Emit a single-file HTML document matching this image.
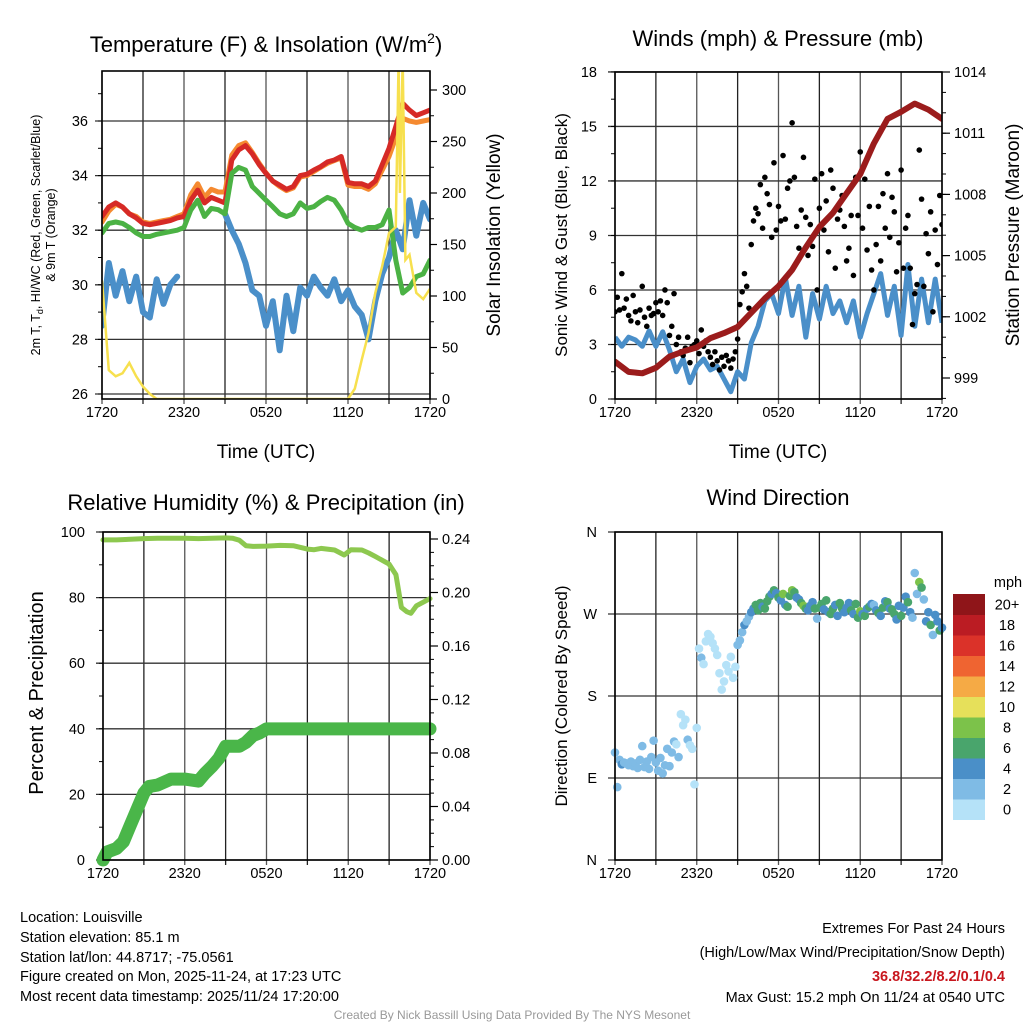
<!DOCTYPE html>
<html><head><meta charset="utf-8">
<style>
html,body{margin:0;padding:0;background:#fff;}
svg{display:block;font-family:"Liberation Sans",Arial,sans-serif;}
</style></head>
<body>
<svg id="s" width="1024" height="1024" viewBox="0 0 1024 1024" xmlns="http://www.w3.org/2000/svg">
<defs>
<clipPath id="c1"><rect x="102" y="71" width="328" height="328"/></clipPath>
<clipPath id="c2"><rect x="615" y="72" width="327" height="327"/></clipPath>
<clipPath id="c3"><rect x="95" y="526" width="342" height="342"/></clipPath>
<clipPath id="c4"><rect x="610" y="527" width="337" height="338"/></clipPath>
</defs>
<text x="266" y="52" font-size="22" text-anchor="middle">Temperature (F) &amp; Insolation (W/m<tspan dy="-9" font-size="14">2</tspan><tspan dy="9">)</tspan></text>
<text x="778" y="46" font-size="22" text-anchor="middle">Winds (mph) &amp; Pressure (mb)</text>
<text x="266" y="510" font-size="22" text-anchor="middle">Relative Humidity (%) &amp; Precipitation (in)</text>
<text x="778" y="505" font-size="22" text-anchor="middle">Wind Direction</text>

<text transform="translate(40,235) rotate(-90)" font-size="12.5" text-anchor="middle">2m T, T<tspan dy="3" font-size="9">d</tspan><tspan dy="-3">, HI/WC (Red, Green, Scarlet/Blue)</tspan></text>
<text transform="translate(55,235) rotate(-90)" font-size="12.5" text-anchor="middle">&amp; 9m T (Orange)</text>
<text transform="translate(500,235) rotate(-90)" font-size="19" text-anchor="middle">Solar Insolation (Yellow)</text>
<text x="266" y="458" font-size="19" text-anchor="middle">Time (UTC)</text>
<text transform="translate(567,235) rotate(-90)" font-size="17" text-anchor="middle">Sonic Wind &amp; Gust (Blue, Black)</text>
<text transform="translate(1019,235) rotate(-90)" font-size="19" text-anchor="middle">Station Pressure (Maroon)</text>
<text x="778" y="458" font-size="19" text-anchor="middle">Time (UTC)</text>
<text transform="translate(43,693) rotate(-90)" font-size="20" text-anchor="middle">Percent &amp; Precipitation</text>
<text transform="translate(567,696) rotate(-90)" font-size="17" text-anchor="middle">Direction (Colored By Speed)</text>

<g font-size="14.5">
<text x="20" y="922">Location: Louisville</text>
<text x="20" y="942">Station elevation: 85.1 m</text>
<text x="20" y="962">Station lat/lon: 44.8717; -75.0561</text>
<text x="20" y="981">Figure created on Mon, 2025-11-24, at 17:23 UTC</text>
<text x="20" y="1001">Most recent data timestamp: 2025/11/24 17:20:00</text>
</g>
<g font-size="14.5" text-anchor="end">
<text x="1005" y="933">Extremes For Past 24 Hours</text>
<text x="1005" y="957">(High/Low/Max Wind/Precipitation/Snow Depth)</text>
<text x="1005" y="981" fill="#c8171e" font-weight="bold">36.8/32.2/8.2/0.1/0.4</text>
<text x="1005" y="1002">Max Gust: 15.2 mph On 11/24 at 0540 UTC</text>
</g>
<text x="512" y="1019" font-size="12" fill="#999" text-anchor="middle">Created By Nick Bassill Using Data Provided By The NYS Mesonet</text>
</svg>
<script>
// ---- Temperature panel data (hours since 1720 UTC, every 0.5 h) ----
const tempHours=[0,0.5,1,1.5,2,2.5,3,3.5,4,4.5,5,5.5,6,6.5,7,7.5,8,8.5,9,9.5,10,10.5,11,11.5,12,12.5,13,13.5,14,14.5,15,15.5,16,16.5,17,17.5,18,18.5,19,19.5,20,20.5,21,21.5,22,22.5,23,23.5,24];
const tempRed=[32.5,32.85,33.0,32.85,32.6,32.45,32.25,32.2,32.25,32.3,32.35,32.45,32.5,33.1,33.47,33.0,33.2,33.1,33.0,34.57,34.94,35.1,34.8,34.4,34.08,33.8,33.65,33.5,33.6,34.0,34.05,34.2,34.33,34.5,34.57,34.7,33.75,33.7,33.7,33.6,33.8,34.4,35.0,35.8,36.65,36.4,36.2,36.3,36.4];
const tempOrange=[32.3,32.7,32.95,32.85,32.6,32.5,32.3,32.25,32.3,32.35,32.4,32.5,32.6,33.3,33.7,33.2,33.5,33.4,33.4,34.75,35.1,35.2,34.85,34.45,34.1,33.8,33.6,33.45,33.55,33.95,34.0,34.15,34.3,34.45,34.55,34.65,33.65,33.6,33.6,33.5,33.7,34.2,34.7,35.4,36.1,36.0,35.95,36.0,36.05];
const tempGreen=[31.9,32.25,32.3,32.25,32.1,31.9,31.77,31.77,31.85,31.9,31.95,32.0,32.1,32.74,33.1,32.5,32.8,32.75,32.6,34.08,34.3,34.2,33.6,33.35,33.1,32.86,32.6,32.5,32.6,33.0,32.8,32.86,33.05,33.2,33.1,32.74,32.25,32.1,32.0,32.1,32.1,32.2,32.74,30.9,29.7,29.9,30.3,30.4,30.9];
const tempBlue=[28.5,30.8,29.6,30.5,29.4,30.3,29.0,28.8,30.2,29.3,30.0,30.3,null,31.9,null,null,null,null,32.6,32.0,31.5,30.8,29.8,29.6,28.5,29.4,27.6,29.6,28.3,29.9,29.6,30.3,29.9,29.6,30.2,29.4,29.8,29.2,28.9,28.0,29.4,30.4,31.0,32.0,31.3,33.1,31.8,33.0,32.4];
const solarHours=[0,0.5,1,1.5,2,2.5,3,3.5,4,18,18.5,19,19.5,20,20.5,21,21.5,21.7,21.8,22,22.2,22.5,23,23.5,24];
const solarValues=[115,28,22,25,35,22,12,5,0,0,10,38,64,103,129,161,167,330,200,330,135,140,103,97,107];
const tempTicks=[26,28,30,32,34,36];
const solarTicks=[0,50,100,150,200,250,300];
const timeTickLabels=["1720","2320","0520","1120","1720"];
// ---- Wind panel data ----
const windHours=tempHours;
const windSonic=[3.4,2.9,3.4,3.25,2.9,3.75,2.9,3.7,2.7,1.5,2.2,0.9,1.8,2.2,1.6,1.8,1.1,0.4,1.5,1.1,3.1,4.0,5.4,5.8,4.7,6.7,4.6,6.2,3.4,5.8,4.4,6.2,4.7,5.4,4.2,5.4,3.4,4.7,5.8,6.9,4.6,6.2,3.5,7.4,4.0,6.6,4.2,6.6,4.2];
const gustValues=[4.8,5.6,4.9,6.9,5.0,5.5, 4.6,4.3,5.7,4.8,4.2,4.9, 6.2,4.5,4.0,5.0,4.6,4.7, 5.3,4.8,5.4,4.6,6.0,5.3, 3.5,4.0,5.8,3.0,3.4,2.6, 2.4,2.8,3.4,2.0,2.9,3.0, 3.2,2.5,3.8,2.9,3.2,2.6, 2.3,1.9,2.6,2.1,1.6,2.3, 1.8,2.4,2.1,1.7,2.2,2.6, 3.3,5.2,5.9,6.9,6.2,5.0, 8.5,9.8,10.5,10.2,11.8,9.4, 12.2,11.3,10.7,8.9,13.0,9.3, 10.6,9.8,13.4,9.9,11.6,12.0, 15.2,12.2,9.5,8.3,10.4,13.3, 10.0,7.9,9.6,8.4,12.1,6.0, 10.5,12.4,9.3,10.9,8.1,12.6, 11.6,7.2,9.9,10.4,11.2,9.5, 7.6,8.3,10.1,6.8,12.2,10.1, 13.6,9.4,12.1,8.2,10.6,7.1, 6.0,8.5,10.6,7.6,11.3,9.4, 12.4,8.9,11.1,10.3,7.0,8.6, 12.6,7.2,9.4,10.1,7.2,4.1, 5.8,6.3,13.7,11.0,6.2,9.1, 8.0,10.3,4.8,9.3,7.4,11.2, 9.6];
const pressHours=[0,1,2,3,4,5,6,7,8,9,10,11,12,13,14,15,16,17,18,19,20,21,22,23,24];
const pressValues=[999.8,999.3,999.23,999.5,1000.05,1000.3,1000.5,1000.95,1001.2,1001.5,1002.2,1002.9,1003.5,1004.3,1005.4,1006.4,1007.1,1008.05,1009.0,1010.5,1011.7,1012.05,1012.45,1012.15,1011.7];
const windTicks=[0,3,6,9,12,15,18];
const pressTicks=[999,1002,1005,1008,1011,1014];
// ---- Humidity / precipitation ----
const rhHours=[0,1,2,3,4,5,6,7,8,9,9.5,10,10.5,11,12,13,14,15,15.5,16,17,17.7,18.2,19,19.5,20,21,21.5,21.9,22.3,22.6,23,23.5,24];
const rhValues=[97.6,97.6,97.8,98.0,98.1,98.1,98.1,98.0,98.1,98.2,98.1,97.5,95.8,95.6,95.7,95.9,95.8,94.8,94.6,95.0,94.5,93.0,94.6,94.5,93.6,92.5,90.2,87,77,75.7,75.2,77.5,78.6,79.7];
const precipHours=[0,0.3,1,1.5,2,2.5,3,3.4,4,5,6,7,7.5,8,8.5,9,10,10.5,11,11.5,12,24];
const precipValues=[0,0.006,0.0087,0.0137,0.026,0.038,0.05,0.055,0.056,0.0605,0.0605,0.059,0.065,0.07,0.076,0.085,0.085,0.088,0.093,0.095,0.098,0.098];
const rhTicks=[0,20,40,60,80,100];
const precipTicks=["0.00","0.04","0.08","0.12","0.16","0.20","0.24"];
// ---- Wind direction (every 10 min) ----
const dirValues=[118,80,110,105,107,106, 104,108,103,106,101,110, 125,102,108,100,113,131, 107,98,112,95,104,122, 103,118,130,127,113,160, 148,154,132,126,122,83, 145,232,222,215,240,248, 245,238,232,225,205,187, 196,214,207,223,200,212, 236,241,250,258,262,267, 272,276,280,274,282,278, 276,284,289,292,296,293, 288,285,292,280,278,290, 296,294,288,286,282,279, 276,274,279,283,276,265, 277,281,275,285,272,270, 276,280,268,282,276,272, 277,282,274,270,281,266, 273,270,268,276,278,281, 280,274,271,268,277,284, 283,276,275,270,264,279, 268,277,289,283,272,266, 315,292,305,299,286,262, 272,258,247,269,262,252, 255];
const dirSpeed=[3.2,2.6,3.4,4.1,2.9,3.0, 2.7,2.5,3.4,2.9,2.5,3.0, 3.7,2.7,2.4,3.0,2.8,2.8, 3.2,2.9,3.2,2.8,3.6,3.2, 2.1,2.4,3.5,1.8,2.0,1.6, 1.4,1.7,2.0,1.2,1.7,1.8, 1.9,1.5,2.3,1.7,1.9,1.6, 1.4,1.1,1.6,1.3,1.0,1.4, 1.1,1.4,1.3,1.0,1.3,1.6, 2.0,3.1,3.5,4.1,3.7,3.0, 5.1,5.9,6.3,6.1,7.1,5.6, 7.3,6.8,6.4,5.3,7.8,5.6, 6.4,5.9,8.0,5.9,7.0,7.2, 9.1,7.3,5.7,5.0,6.2,8.0, 6.0,4.7,5.8,5.0,7.3,3.6, 6.3,7.4,5.6,6.5,4.9,7.6, 7.0,4.3,5.9,6.2,6.7,5.7, 4.6,5.0,6.1,4.1,7.3,6.1, 8.2,5.6,7.3,4.9,6.4,4.3, 3.6,5.1,6.4,4.6,6.8,5.6, 7.4,5.3,6.7,6.2,4.2,5.2, 7.6,4.3,5.6,6.1,4.3,2.5, 3.5,3.8,8.2,6.6,3.7,5.5, 4.8,6.2,2.9,5.6,4.4,6.7, 5.8];
const dirTicks=["N","E","S","W","N"];
const speedBins=["0","2","4","6","8","10","12","14","16","18","20+"];
const speedColors=["#b5e2f8","#7fbbe5","#4a8fc8","#49a56c","#7cc24a","#e6e05a","#f5aa45","#ef6431","#db3229","#bb1c23","#8f1519"];

const svg=document.getElementById('s');
const NS="http://www.w3.org/2000/svg";
function mk(tag,attrs,parent){const e=document.createElementNS(NS,tag);for(const k in attrs)e.setAttribute(k,attrs[k]);(parent||svg).appendChild(e);return e;}
function pathFrom(xs,ys,fx,fy){let d="",pen=false;for(let i=0;i<xs.length;i++){if(ys[i]===null){pen=false;continue;}d+=(pen?"L":"M")+fx(xs[i]).toFixed(1)+","+fy(ys[i]).toFixed(1);pen=true;}return d;}

function frame(name,x0,y0,x1,y1){
  const g=mk('g',{});
  
  
  const fx=h=>x0+(x1-x0)*h/24;
  for(let k=0;k<=8;k++){const x=fx(k*3);mk('line',{x1:x,y1:y0,x2:x,y2:y1+5,stroke:k%2?'#222':'#555','stroke-width':1.3},g);}
  timeTickLabels.forEach((l,i)=>{const t=mk('text',{x:fx(i*6),y:y1+18,'font-size':14.5,'text-anchor':'middle'},g);t.textContent=l;
    
    });
  return {g,fx};
}
function border(x0,y0,x1,y1){const r=mk('rect',{x:x0,y:y0,width:x1-x0,height:y1-y0,fill:'none',stroke:'#000','stroke-width':1.6});
  
  }
function hgrid(g,x0,x1,y){mk('line',{x1:x0-7,y1:y,x2:x1,y2:y,stroke:'#333','stroke-width':1.3},g);}
function leftLabel(g,x,y,txt){const t=mk('text',{x:x,y:y+5,'font-size':14.5,'text-anchor':'end'},g);t.textContent=txt;}
function rightTick(g,x,y,txt,len){mk('line',{x1:x,y1:y,x2:x+len,y2:y,stroke:'#000','stroke-width':1.2},g);const t=mk('text',{x:x+12,y:y+5,'font-size':14.5},g);t.textContent=txt;}

// ===== Panel 1 =====
(function(){
  const x0=102,x1=430,y0=71,y1=399;
  const {g,fx}=frame('temperature',x0,y0,x1,y1);
  const fy=v=>394-(v-26)*27.3;
  const fs=v=>399-v*1.03;
  tempTicks.forEach(v=>{hgrid(g,x0,x1,fy(v));leftLabel(g,88,fy(v),String(v));});
  for(let v=26;v<=37;v++)mk('line',{x1:x0-4,y1:fy(v),x2:x0,y2:fy(v),stroke:'#000'},g);
  solarTicks.forEach(v=>rightTick(g,x1,fs(v),String(v),7));
  for(let v=0;v<=300;v+=25)mk('line',{x1:x1,y1:fs(v),x2:x1+4,y2:fs(v),stroke:'#000'},g);
  const c=mk('g',{'clip-path':'url(#c1)'});
  const series=[[tempBlue,'#4a8fc9',6,'blue-hiwc-line'],[tempOrange,'#f58a30',5,'orange-9m-temp-line'],[tempRed,'#d62a26',5,'red-2m-temp-line'],[tempGreen,'#4bb244',5,'green-dewpoint-line']];
  series.forEach(s=>{const p=mk('path',{d:pathFrom(tempHours,s[0],fx,fy),fill:'none',stroke:s[1],'stroke-width':s[2],'stroke-linejoin':'round','stroke-linecap':'round'},c);
    
    });
  const sp=mk('path',{d:pathFrom(solarHours,solarValues,fx,fs),fill:'none',stroke:'#f7e04e','stroke-width':2.5},c);
  
  
  border(x0,y0,x1,y1);
})();

// ===== Panel 2 =====
(function(){
  const x0=615,x1=942,y0=72,y1=399;
  const {g,fx}=frame('winds',x0,y0,x1,y1);
  const fy=v=>399-v*18.17;
  const fp=p=>72+(1014-p)*20.4;
  windTicks.forEach(v=>{hgrid(g,x0,x1,fy(v));leftLabel(g,597,fy(v),String(v));});
  for(let v=0;v<=18;v+=1.5)mk('line',{x1:x0-4,y1:fy(v),x2:x0,y2:fy(v),stroke:'#000'},g);
  pressTicks.forEach(v=>rightTick(g,x1,fp(v),String(v),8));
  for(let v=998;v<=1014;v+=1)mk('line',{x1:x1,y1:fp(v),x2:x1+4,y2:fp(v),stroke:'#000'},g);
  const c=mk('g',{'clip-path':'url(#c2)'});
  const w=mk('path',{d:pathFrom(windHours,windSonic,fx,fy),fill:'none',stroke:'#4a8fc9','stroke-width':5,'stroke-linejoin':'round'},c);
  
  
  gustValues.forEach((v,i)=>{const d=mk('circle',{cx:fx(i/6),cy:fy(v),r:2.8,fill:'#000'},c);
    
    });
  const p=mk('path',{d:pathFrom(pressHours,pressValues,fx,fp),fill:'none',stroke:'#9b1c1c','stroke-width':6,'stroke-linejoin':'round','stroke-linecap':'round'},c);
  
  
  border(x0,y0,x1,y1);
})();

// ===== Panel 3 =====
(function(){
  const x0=103,x1=430,y0=532,y1=860;
  const {g,fx}=frame('humidity',x0,y0,x1,y1);
  const fy=v=>860-v*3.28;
  const fp=v=>860-v*1337.5;
  rhTicks.forEach(v=>{hgrid(g,x0,x1,fy(v));leftLabel(g,85,fy(v),String(v));});
  for(let v=0;v<=100;v+=10)mk('line',{x1:x0-4,y1:fy(v),x2:x0,y2:fy(v),stroke:'#000'},g);
  precipTicks.forEach(v=>rightTick(g,x1,fp(parseFloat(v)),v,8));
  for(let v=0;v<=0.245;v+=0.01)mk('line',{x1:x1,y1:fp(v),x2:x1+4,y2:fp(v),stroke:'#000'},g);
  const c=mk('g',{'clip-path':'url(#c3)'});
  const pp=mk('path',{d:pathFrom(precipHours,precipValues,fx,fp),fill:'none',stroke:'#4ab649','stroke-width':13,'stroke-linejoin':'round','stroke-linecap':'round'},c);
  
  
  const rp=mk('path',{d:pathFrom(rhHours,rhValues,fx,fy),fill:'none',stroke:'#8dc84f','stroke-width':5,'stroke-linejoin':'round','stroke-linecap':'round'},c);
  
  
  border(x0,y0,x1,y1);
})();

// ===== Panel 4 =====
(function(){
  const x0=615,x1=942,y0=532,y1=860;
  const {g,fx}=frame('direction',x0,y0,x1,y1);
  const fy=d=>860-d*(328/360);
  dirTicks.forEach((l,i)=>{hgrid(g,x0,x1,fy(i*90));leftLabel(g,597,fy(i*90),l);});
  const c=mk('g',{'clip-path':'url(#c4)'});
  dirValues.forEach((d,i)=>{const t=i/6;
    const bin=Math.min(10,Math.floor(dirSpeed[i]/2));
    const e=mk('circle',{cx:fx(t),cy:fy(d),r:4.3,fill:speedColors[bin]},c);
    
    });
  border(x0,y0,x1,y1);
  const lg=mk('g',{});
  
  
  const mt=mk('text',{x:1008,y:587,'font-size':14.5,'text-anchor':'middle'},lg);mt.textContent='mph';
  const bh=20.5,top=594;
  for(let i=0;i<11;i++){const yy=top+(10-i)*bh;
    mk('rect',{x:953,y:yy,width:32,height:bh+0.5,fill:speedColors[i]},lg);
    const t=mk('text',{x:1007,y:yy+bh/2+5,'font-size':14.5,'text-anchor':'middle'},lg);t.textContent=speedBins[i];}
})();
</script>
</body></html>
